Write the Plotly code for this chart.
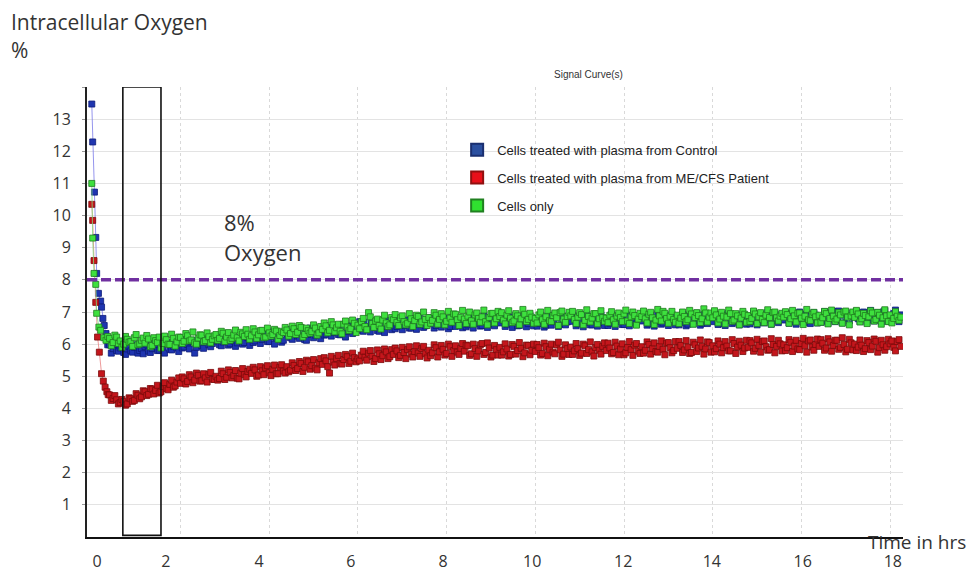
import plotly.graph_objects as go

# ---------------- data ----------------
series_names = ["Cells treated with plasma from Control",
                "Cells treated with plasma from ME/CFS Patient",
                "Cells only"]

# early (fast descent) readings, hours / % O2
blue_early_t = [0.00, 0.02, 0.06, 0.09, 0.11, 0.15, 0.20, 0.22, 0.25, 0.28, 0.32, 0.36]
blue_early_v = [13.47, 12.29, 10.73, 9.32, 8.20, 7.58, 7.34, 7.15, 6.80, 6.58, 6.33, 5.98]
green_early_t = [0.00, 0.02, 0.05, 0.09, 0.11, 0.16, 0.20, 0.27, 0.32, 0.36]
green_early_v = [11.00, 9.30, 8.20, 7.86, 6.96, 6.53, 6.43, 6.20, 6.12, 6.24]
red_early_t = [0.00, 0.02, 0.05, 0.09, 0.13, 0.17, 0.22, 0.26, 0.30, 0.34, 0.37]
red_early_v = [10.35, 9.85, 8.60, 7.30, 6.22, 5.75, 5.08, 4.85, 4.66, 4.52, 4.43]

# regular readings: set A from 0.40 h, set B from 0.44 h, each one every 0.08 h
start_a = 0.40
start_b = 0.44
sample_step = 0.08

blue_a = [
    5.98, 5.86, 5.80, 5.88, 5.74, 5.85, 5.79, 5.90, 5.72, 5.86,
    5.92, 5.78, 5.86, 5.95, 5.81, 5.90, 6.02, 5.84, 5.93, 5.88,
    6.04, 5.91, 5.99, 6.08, 5.72, 6.03, 5.95, 6.10, 5.98, 6.02,
    6.12, 5.98, 6.07, 6.18, 6.01, 6.10, 6.04, 6.14, 6.05, 6.20,
    6.22, 6.10, 6.28, 6.15, 6.30, 6.08, 6.24, 6.19, 6.33, 6.12,
    6.33, 6.20, 6.41, 6.25, 6.36, 6.14, 6.30, 6.45, 6.28, 6.38,
    6.42, 6.31, 6.50, 6.36, 6.47, 6.29, 6.55, 6.40, 6.52, 6.44,
    6.58, 6.43, 6.62, 6.49, 6.66, 6.52, 6.40, 6.60, 6.55, 6.68,
    6.63, 6.55, 6.72, 6.58, 6.67, 6.50, 6.70, 6.61, 6.76, 6.57,
    6.64, 6.73, 6.58, 6.70, 6.62, 6.78, 6.55, 6.68, 6.74, 6.61,
    6.72, 6.60, 6.76, 6.65, 6.81, 6.58, 6.70, 6.63, 6.77, 6.67,
    6.66, 6.75, 6.62, 6.80, 6.69, 6.57, 6.74, 6.85, 6.64, 6.71,
    6.78, 6.64, 6.73, 6.59, 6.82, 6.70, 6.76, 6.62, 6.87, 6.69,
    6.71, 6.80, 6.63, 6.75, 6.68, 6.84, 6.60, 6.77, 6.72, 6.66,
    6.79, 6.65, 6.83, 6.70, 6.76, 6.61, 6.88, 6.73, 6.67, 6.81,
    6.72, 6.84, 6.63, 6.78, 6.70, 6.92, 6.66, 6.80, 6.74, 6.69,
    6.83, 6.68, 6.76, 6.62, 6.86, 6.73, 6.79, 6.65, 6.81, 6.75,
    6.70, 6.82, 6.77, 6.64, 6.88, 6.74, 6.69, 6.85, 6.79, 6.72,
    6.86, 6.71, 6.80, 6.67, 6.84, 6.76, 6.91, 6.73, 6.82, 6.78,
    6.75, 6.88, 6.70, 6.83, 6.79, 6.93, 6.68, 6.85, 6.77, 6.90,
    6.81, 6.72, 6.89, 6.78, 7.02, 6.84, 6.75, 6.92, 6.80, 6.87,
    6.93, 6.79, 6.88, 6.82, 6.96, 6.76, 6.90, 6.85, 7.00, 6.83,
    6.86, 6.95, 6.80, 6.91,
]
blue_b = [
    5.72, 6.00, 5.78, 5.95, 5.68, 5.92, 5.75, 5.98, 5.80, 5.70,
    5.98, 5.74, 6.03, 5.80, 5.96, 5.72, 6.05, 5.82, 5.99, 5.77,
    5.88, 6.14, 5.85, 6.12, 5.90, 6.18, 5.87, 6.15, 5.92, 6.10,
    6.24, 5.95, 6.22, 5.97, 6.26, 5.93, 6.20, 6.00, 6.28, 5.96,
    6.05, 6.35, 6.02, 6.32, 6.08, 6.38, 6.00, 6.30, 6.06, 6.36,
    6.45, 6.15, 6.48, 6.18, 6.44, 6.12, 6.50, 6.20, 6.47, 6.17,
    6.28, 6.58, 6.25, 6.55, 6.30, 6.60, 6.22, 6.57, 6.33, 6.62,
    6.70, 6.40, 6.68, 6.38, 6.72, 6.42, 6.66, 6.36, 6.74, 6.45,
    6.48, 6.78, 6.45, 6.75, 6.50, 6.80, 6.46, 6.82, 6.52, 6.76,
    6.82, 6.50, 6.85, 6.53, 6.80, 6.48, 6.86, 6.55, 6.83, 6.51,
    6.54, 6.86, 6.50, 6.84, 6.56, 6.88, 6.52, 6.83, 6.57, 6.87,
    6.88, 6.55, 6.85, 6.52, 6.90, 6.58, 6.86, 6.54, 6.89, 6.57,
    6.56, 6.90, 6.53, 6.87, 6.59, 6.92, 6.55, 6.88, 6.60, 6.86,
    6.90, 6.57, 6.88, 6.54, 6.93, 6.60, 6.87, 6.56, 6.91, 6.58,
    6.58, 6.92, 6.55, 6.89, 6.61, 6.94, 6.57, 6.90, 6.62, 6.88,
    6.92, 6.59, 6.90, 6.56, 6.95, 6.62, 6.89, 6.58, 6.93, 6.60,
    6.60, 6.94, 6.57, 6.91, 6.63, 6.96, 6.59, 6.92, 6.64, 6.90,
    6.94, 6.61, 6.92, 6.58, 6.97, 6.64, 6.91, 6.60, 6.95, 6.62,
    6.63, 6.97, 6.60, 6.94, 6.66, 6.99, 6.62, 6.95, 6.67, 6.93,
    6.97, 6.65, 6.95, 6.62, 7.00, 6.68, 6.94, 6.64, 6.98, 6.66,
    6.68, 7.01, 6.65, 6.98, 6.70, 7.03, 6.66, 6.99, 6.72, 6.97,
    7.02, 6.70, 7.00, 6.67, 7.05, 6.72, 6.98, 6.69, 7.04, 6.71,
    6.73, 7.06, 6.70,
]

green_a = [
    6.18, 6.05, 6.22, 6.10, 6.00, 6.15, 6.08, 6.20, 5.98, 6.12,
    6.03, 6.16, 5.96, 6.11, 6.22, 6.02, 6.14, 5.99, 6.18, 6.07,
    6.21, 6.09, 6.26, 6.13, 6.04, 6.19, 6.28, 6.11, 6.23, 6.15,
    6.30, 6.18, 6.34, 6.22, 6.12, 6.28, 6.20, 6.37, 6.24, 6.31,
    6.26, 6.38, 6.29, 6.43, 6.22, 6.35, 6.30, 6.41, 6.27, 6.36,
    6.44, 6.33, 6.48, 6.37, 6.52, 6.30, 6.42, 6.39, 6.50, 6.35,
    6.46, 6.57, 6.43, 6.60, 6.51, 6.40, 6.62, 6.53, 6.48, 6.65,
    6.59, 6.70, 6.55, 6.98, 6.64, 6.72, 6.58, 6.75, 6.66, 6.60,
    6.76, 6.68, 6.82, 6.70, 6.65, 6.79, 6.73, 6.86, 6.69, 6.77,
    6.83, 6.74, 6.90, 6.77, 6.85, 6.71, 6.81, 6.94, 6.76, 6.84,
    6.78, 6.87, 6.73, 6.91, 6.80, 6.85, 6.70, 6.83, 6.96, 6.79,
    6.86, 6.75, 6.90, 6.81, 6.72, 6.88, 6.79, 6.93, 6.77, 6.84,
    6.80, 6.91, 6.76, 6.85, 6.73, 6.89, 6.82, 6.98, 6.78, 6.86,
    6.88, 6.77, 6.84, 6.92, 6.74, 6.86, 6.81, 6.95, 6.79, 6.83,
    6.81, 6.90, 6.76, 6.87, 6.83, 6.94, 6.72, 6.85, 6.89, 6.78,
    6.86, 6.79, 6.93, 6.82, 6.75, 6.88, 7.02, 6.80, 6.87, 6.77,
    6.90, 6.81, 6.86, 6.76, 6.94, 6.83, 6.89, 6.79, 6.97, 6.84,
    6.82, 6.91, 6.78, 6.87, 6.84, 6.95, 6.75, 6.88, 6.81, 6.93,
    6.89, 6.80, 6.94, 6.85, 6.77, 6.90, 6.83, 6.98, 6.82, 6.87,
    6.84, 6.92, 6.79, 6.88, 6.96, 6.81, 6.87, 6.76, 6.93, 6.85,
    6.90, 6.82, 6.95, 6.80, 6.87, 6.78, 6.91, 7.00, 6.84, 6.88,
    6.83, 6.94, 6.79, 6.89, 6.85, 6.97, 6.77, 6.90, 6.82, 6.88,
    6.91, 6.80, 6.87, 6.84,
]
green_b = [
    5.95, 6.28, 6.02, 5.90, 6.24, 6.06, 5.93, 6.30, 6.01, 6.19,
    6.27, 5.92, 6.20, 6.05, 5.88, 6.25, 6.00, 6.31, 5.94, 6.22,
    6.02, 6.33, 6.10, 6.38, 6.00, 6.29, 6.07, 6.35, 6.04, 6.26,
    6.12, 6.40, 6.08, 6.36, 6.18, 6.44, 6.10, 6.32, 6.45, 6.15,
    6.48, 6.18, 6.42, 6.20, 6.50, 6.25, 6.46, 6.15, 6.40, 6.52,
    6.25, 6.56, 6.30, 6.58, 6.22, 6.50, 6.34, 6.60, 6.28, 6.55,
    6.66, 6.35, 6.70, 6.38, 6.62, 6.32, 6.72, 6.42, 6.75, 6.36,
    6.48, 6.80, 6.45, 6.85, 6.52, 6.78, 6.47, 6.90, 6.55, 6.83,
    6.92, 6.58, 6.88, 6.60, 6.95, 6.55, 6.90, 6.62, 7.00, 6.58,
    6.65, 6.98, 6.62, 6.95, 6.60, 7.02, 6.68, 6.93, 6.58, 7.05,
    6.64, 7.00, 6.62, 6.97, 6.68, 7.06, 6.60, 6.95, 6.66, 7.02,
    6.98, 6.63, 7.04, 6.67, 6.95, 6.60, 7.08, 6.70, 6.96, 6.65,
    6.66, 7.00, 6.62, 7.05, 6.70, 6.97, 6.58, 7.03, 6.68, 6.99,
    7.02, 6.64, 6.98, 6.60, 7.07, 6.69, 6.95, 6.63, 7.04, 6.71,
    6.67, 7.01, 6.62, 6.97, 6.70, 7.06, 6.64, 7.00, 6.59, 6.96,
    7.03, 6.66, 6.99, 6.61, 7.08, 6.72, 6.96, 6.65, 7.02, 6.68,
    6.64, 7.00, 6.70, 7.05, 6.62, 6.98, 6.67, 7.10, 6.69, 6.97,
    7.04, 6.66, 6.99, 6.63, 7.06, 6.71, 6.95, 6.60, 7.02, 6.68,
    6.70, 7.03, 6.64, 6.98, 6.67, 7.07, 6.62, 7.00, 6.72, 6.96,
    7.01, 6.65, 7.05, 6.69, 6.97, 6.61, 7.08, 6.73, 6.99, 6.66,
    6.68, 7.02, 6.63, 7.06, 6.71, 6.98, 6.65, 7.03, 6.60, 7.00,
    7.05, 6.69, 6.96, 6.64, 7.04, 6.72, 6.99, 6.62, 7.07, 6.70,
    6.66, 7.01, 6.74,
]

red_a = [
    4.42, 4.31, 4.27, 4.18, 4.21, 4.14, 4.30, 4.25, 4.41, 4.36,
    4.52, 4.44, 4.60, 4.56, 4.48, 4.68, 4.62, 4.75, 4.66, 4.82,
    4.78, 4.92, 4.84, 4.98, 4.88, 5.03, 4.86, 4.95, 5.06, 4.91,
    5.00, 4.93, 5.08, 4.97, 5.12, 5.02, 4.94, 5.10, 5.05, 5.15,
    5.09, 5.20, 5.04, 5.17, 5.26, 5.11, 5.22, 5.08, 5.28, 5.16,
    5.30, 5.19, 5.34, 5.24, 5.40, 5.28, 5.45, 5.33, 5.25, 5.42,
    5.37, 5.48, 5.10, 5.44, 5.55, 5.40, 5.52, 5.61, 5.47, 5.58,
    5.54, 5.66, 5.59, 5.72, 5.62, 5.55, 5.70, 5.64, 5.76, 5.61,
    5.68, 5.79, 5.65, 5.74, 5.83, 5.69, 5.77, 5.72, 5.86, 5.70,
    5.81, 5.73, 5.89, 5.76, 5.84, 5.71, 5.92, 5.80, 5.75, 5.87,
    5.78, 5.95, 5.70, 5.86, 5.79, 6.02, 5.74, 5.88, 5.66, 5.83,
    5.90, 5.76, 5.85, 5.68, 5.93, 5.80, 5.87, 5.73, 5.96, 5.81,
    5.77, 5.89, 5.71, 5.92, 5.84, 5.75, 5.98, 5.82, 5.69, 5.86,
    5.91, 5.79, 5.86, 5.72, 5.95, 5.83, 5.76, 5.89, 5.81, 5.93,
    5.80, 5.88, 5.74, 5.94, 5.85, 5.67, 5.90, 5.83, 5.97, 5.78,
    5.92, 5.81, 5.99, 5.86, 5.77, 5.93, 5.84, 6.03, 5.89, 5.80,
    5.87, 5.96, 5.82, 5.91, 5.74, 5.98, 5.88, 5.93, 5.85, 6.05,
    5.95, 5.86, 6.00, 5.89, 5.94, 5.79, 6.02, 5.91, 5.97, 5.88,
    5.90, 6.04, 5.87, 5.96, 6.08, 5.92, 5.83, 5.99, 5.93, 6.01,
    5.98, 5.89, 6.06, 5.94, 5.85, 6.02, 5.95, 6.10, 5.91, 5.99,
    5.93, 6.03, 5.88, 6.07, 5.96, 6.12, 5.90, 5.99, 5.84, 6.04,
    6.00, 5.91, 5.97, 5.86, 6.05, 5.94, 6.09, 5.89, 5.98, 5.92,
    6.01, 5.90, 6.08, 5.93,
]
red_b = [
    4.25, 4.40, 4.14, 4.28, 4.10, 4.33, 4.22, 4.46, 4.30, 4.55,
    4.40, 4.62, 4.45, 4.72, 4.52, 4.80, 4.58, 4.88, 4.70, 4.95,
    4.98, 4.76, 5.05, 4.80, 5.10, 4.85, 5.08, 4.82, 5.12, 4.90,
    4.88, 5.16, 4.90, 5.20, 4.95, 5.18, 4.92, 5.24, 4.98, 5.22,
    5.28, 5.00, 5.30, 5.05, 5.33, 5.02, 5.35, 5.08, 5.36, 5.10,
    5.14, 5.42, 5.18, 5.46, 5.15, 5.50, 5.22, 5.52, 5.20, 5.55,
    5.58, 5.30, 5.62, 5.35, 5.65, 5.38, 5.68, 5.40, 5.72, 5.45,
    5.48, 5.78, 5.50, 5.80, 5.46, 5.82, 5.52, 5.85, 5.55, 5.83,
    5.88, 5.58, 5.90, 5.55, 5.92, 5.60, 5.95, 5.62, 5.93, 5.57,
    5.64, 5.98, 5.60, 5.96, 5.66, 6.00, 5.62, 5.95, 5.68, 6.02,
    5.97, 5.65, 6.00, 5.62, 5.98, 5.68, 6.04, 5.60, 5.96, 5.66,
    5.66, 6.01, 5.63, 5.99, 5.69, 6.05, 5.61, 5.97, 5.67, 6.00,
    5.99, 5.66, 6.03, 5.64, 6.00, 5.70, 6.06, 5.62, 5.98, 5.68,
    5.68, 6.02, 5.65, 6.00, 5.71, 6.07, 5.63, 5.99, 5.69, 6.04,
    6.03, 5.70, 6.06, 5.67, 6.01, 5.73, 6.08, 5.65, 6.02, 5.71,
    5.72, 6.07, 5.69, 6.04, 5.75, 6.10, 5.67, 6.05, 5.73, 6.08,
    6.08, 5.74, 6.11, 5.71, 6.06, 5.77, 6.13, 5.69, 6.07, 5.75,
    5.76, 6.10, 5.73, 6.08, 5.79, 6.14, 5.71, 6.09, 5.77, 6.12,
    6.11, 5.78, 6.15, 5.75, 6.10, 5.81, 6.17, 5.73, 6.12, 5.79,
    5.80, 6.14, 5.77, 6.12, 5.83, 6.18, 5.75, 6.13, 5.81, 6.16,
    6.14, 5.81, 6.17, 5.78, 6.12, 5.84, 6.20, 5.76, 6.15, 5.82,
    5.80, 6.13, 5.77, 6.11, 5.83, 6.16, 5.75, 6.12, 5.81, 6.15,
    6.10, 5.79, 6.14,
]

reference_level = 8          # % oxygen line
window_start, window_end = 0.70, 1.56   # highlighted window (hours)

x_tick_pos = [0.12, 1.67, 3.77, 5.84, 7.92, 9.93, 11.98, 13.98, 16.03, 18.06]
x_tick_text = ["0", "2", "4", "6", "8", "10", "12", "14", "16", "18"]
x_grid = [2, 4, 6, 8, 10, 12, 14, 16, 18]
y_tick_pos = [1, 2, 3, 4, 5, 6, 7, 8, 9, 10, 11, 12, 13, 14]
y_tick_text = ["1", "2", "3", "4", "5", "6", "7", "8", "9", "10", "11", "12", "13", ""]

# ---------------- figure ----------------
def sample_times(start, n):
    return [round(start + i * sample_step, 3) for i in range(n)]

def combine(early_t, early_v, a, b):
    pts = list(zip(early_t, early_v))
    pts += list(zip(sample_times(start_a, len(a)), a))
    pts += list(zip(sample_times(start_b, len(b)), b))
    pts.sort(key=lambda p: p[0])
    return [p[0] for p in pts], [p[1] for p in pts]

styles = {
    "blue": dict(fill="#1f35b0", edge="#0c1a78", line="#7a7ae8", legend="#2b50a0", ledge="#1a2f70"),
    "red": dict(fill="#c4161c", edge="#7a0a0a", line="#e88080", legend="#e8101a", ledge="#901010"),
    "green": dict(fill="#3ee03e", edge="#1f7a1f", line="#80e080", legend="#30e030", ledge="#208020"),
}

fig = go.Figure()

def add_series(t, v, st):
    fig.add_trace(go.Scatter(
        x=t, y=v, mode="lines+markers", showlegend=False,
        line=dict(color=st["line"], width=0.8),
        marker=dict(symbol="square", size=6, color=st["fill"],
                    line=dict(color=st["edge"], width=0.8)),
        hoverinfo="skip"))

bt, bv = combine(blue_early_t, blue_early_v, blue_a, blue_b)
rt, rv = combine(red_early_t, red_early_v, red_a, red_b)
gt, gv = combine(green_early_t, green_early_v, green_a, green_b)
add_series(bt, bv, styles["blue"])
add_series(rt, rv, styles["red"])
add_series(gt, gv, styles["green"])

for name, key in zip(series_names, ["blue", "red", "green"]):
    st = styles[key]
    fig.add_trace(go.Scatter(
        x=[None], y=[None], xaxis="x2", mode="markers", name=name,
        legendgroup=key,
        marker=dict(symbol="square", size=10, color=st["legend"],
                    line=dict(color=st["ledge"], width=1))))

# reference line and highlighted window
fig.add_shape(type="line", xref="paper", yref="y", x0=0, x1=1,
              y0=reference_level, y1=reference_level, layer="above",
              line=dict(color="#7030A0", width=3.5, dash="10px,4px"))
fig.add_shape(type="rect", xref="x", yref="y", x0=window_start, x1=window_end,
              y0=0.05, y1=14, layer="above",
              line=dict(color="#111111", width=1.6))

x_range = [-0.108, 18.29]

def big(size):
    return dict(family="Open Sans", size=size, color="#333333")

# the page places the figure 8px in from the top-left corner of the window
fig.update_layout(
    width=970, height=566,
    margin=dict(l=79, r=75, t=79, b=37, autoexpand=False),
    paper_bgcolor="white", plot_bgcolor="white",
    showlegend=True,
    legend=dict(x=0.4536, y=0.894, xanchor="left", yanchor="top",
                bgcolor="rgba(0,0,0,0)", tracegroupgap=8,
                font=dict(family="Liberation Sans", size=13, color="#222222"),
                itemsizing="constant"),
    xaxis=dict(range=x_range, tickmode="array", tickvals=x_grid,
               showticklabels=False, ticks="", automargin=False,
               showgrid=True, gridcolor="#d9d9d9", griddash="3px,3px", gridwidth=1,
               zeroline=False, showline=True, linecolor="#111111", linewidth=2),
    xaxis2=dict(range=x_range, overlaying="x", side="bottom", automargin=False,
                tickmode="array", tickvals=x_tick_pos, ticktext=x_tick_text,
                showgrid=False, zeroline=False, showline=False, ticks="",
                ticklabelstandoff=13,
                tickfont=dict(family="Open Sans", size=16, color="#333333")),
    yaxis=dict(range=[0, 14], tickmode="array", tickvals=y_tick_pos, ticktext=y_tick_text,
               automargin=False,
               showgrid=True, gridcolor="#e3e3e3", gridwidth=1,
               zeroline=False, showline=True, linecolor="#222222", linewidth=2,
               ticks="outside", ticklen=3, tickcolor="#999999",
               ticklabelstandoff=8,
               tickfont=dict(family="Open Sans", size=16, color="#333333")),
    annotations=[
        dict(text="Intracellular Oxygen", xref="paper", yref="paper",
             x=-0.095, y=1.145, xanchor="left", yanchor="middle",
             showarrow=False, font=big(21)),
        dict(text="%", xref="paper", yref="paper",
             x=-0.095, y=1.082, xanchor="left", yanchor="middle",
             showarrow=False, font=big(21)),
        dict(text="Signal Curve(s)", xref="paper", yref="paper",
             x=0.615, y=1.027, xanchor="center", yanchor="middle",
             showarrow=False, font=dict(family="Liberation Sans", size=10, color="#333333")),
        dict(text="8%", xref="paper", yref="paper",
             x=0.165, y=0.70, xanchor="left", yanchor="middle",
             showarrow=False, font=big(22)),
        dict(text="Oxygen", xref="paper", yref="paper",
             x=0.165, y=0.633, xanchor="left", yanchor="middle",
             showarrow=False, font=big(22)),
        dict(text="Time in hrs", xref="paper", yref="paper",
             x=0.9547, y=-0.012, xanchor="left", yanchor="middle",
             showarrow=False, font=big(19)),
    ],
)

fig.write_html("out.html")
